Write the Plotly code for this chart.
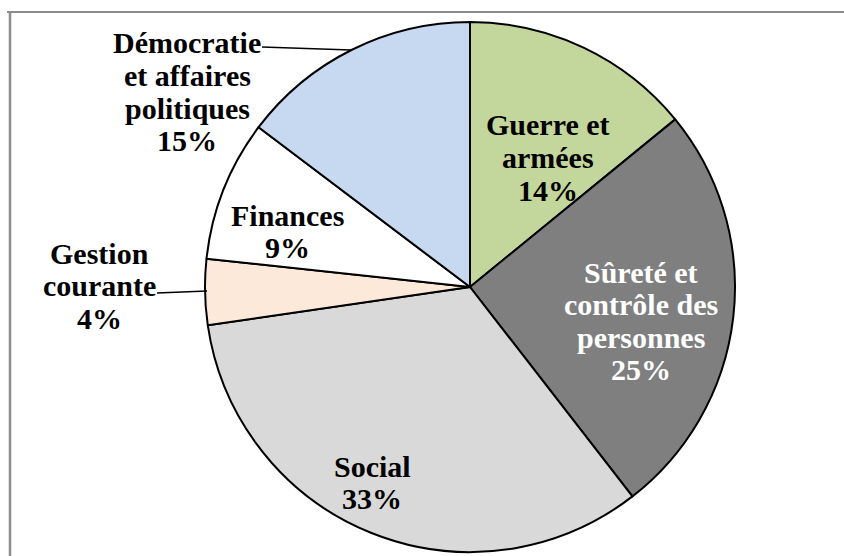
import plotly.graph_objects as go

categories = ["Guerre et armées", "Sûreté et contrôle des personnes", "Social",
              "Gestion courante", "Finances", "Démocratie et affaires politiques"]
values = [14.1, 25.4, 33.2, 4.0, 8.6, 14.7]
pct_labels = ["14%", "25%", "33%", "4%", "9%", "15%"]
label_lines = [["Guerre et", "armées"],
               ["Sûreté et", "contrôle des", "personnes"],
               ["Social"],
               ["Gestion", "courante"],
               ["Finances"],
               ["Démocratie", "et affaires", "politiques"]]
colors = ["#C3D69B", "#7F7F7F", "#D9D9D9", "#FDE9D9", "#FFFFFF", "#C6D9F1"]
text_colors = ["black", "white", "black", "black", "black", "black"]

W, H = 844, 556
cx, cy, R = 470, 287, 265

# label anchor positions (screen pixels): center x, first line center y
label_pos = [(548, 125), (641, 272), (372, 466), (99, 253), (287, 215), (187, 43)]
LINE = 32.5

def px(x):
    return x / W

def py(y):
    return 1 - y / H

fig = go.Figure(go.Pie(
    labels=categories, values=values, sort=False, direction="clockwise",
    rotation=0, marker=dict(colors=colors, line=dict(color="black", width=2)),
    textinfo="none", hoverinfo="label+percent", showlegend=False,
    domain=dict(x=[px(cx - R), px(cx + R)], y=[py(cy + R), py(cy - R)]),
))

annotations = []
for i, lines in enumerate(label_lines):
    x0, y0 = label_pos[i]
    for j, t in enumerate(lines + [pct_labels[i]]):
        annotations.append(dict(
            x=px(x0), y=py(y0 + j * LINE), xref="paper", yref="paper",
            text="<b>" + t + "</b>", showarrow=False, xanchor="center", yanchor="middle",
            font=dict(family="Liberation Serif", size=30, color=text_colors[i]),
        ))

shapes = [
    dict(type="line", xref="paper", yref="paper", x0=px(7), x1=1, y0=py(12), y1=py(12),
         line=dict(color="#8C8C8C", width=2)),
    dict(type="line", xref="paper", yref="paper", x0=px(10), x1=px(10), y0=py(12), y1=0,
         line=dict(color="#8C8C8C", width=2.5)),
    dict(type="line", xref="paper", yref="paper", x0=px(262), x1=px(351), y0=py(47), y1=py(50),
         line=dict(color="black", width=1.5)),
    dict(type="line", xref="paper", yref="paper", x0=px(157), x1=px(207), y0=py(293), y1=py(291),
         line=dict(color="black", width=1.5)),
]

fig.update_layout(
    width=W, height=H, margin=dict(l=0, r=0, t=0, b=0),
    paper_bgcolor="white", plot_bgcolor="white",
    annotations=annotations, shapes=shapes,
)

fig.write_html("out.html", config={"displayModeBar": False},
               post_script="document.body.style.margin='0';document.body.style.overflow='hidden';")
